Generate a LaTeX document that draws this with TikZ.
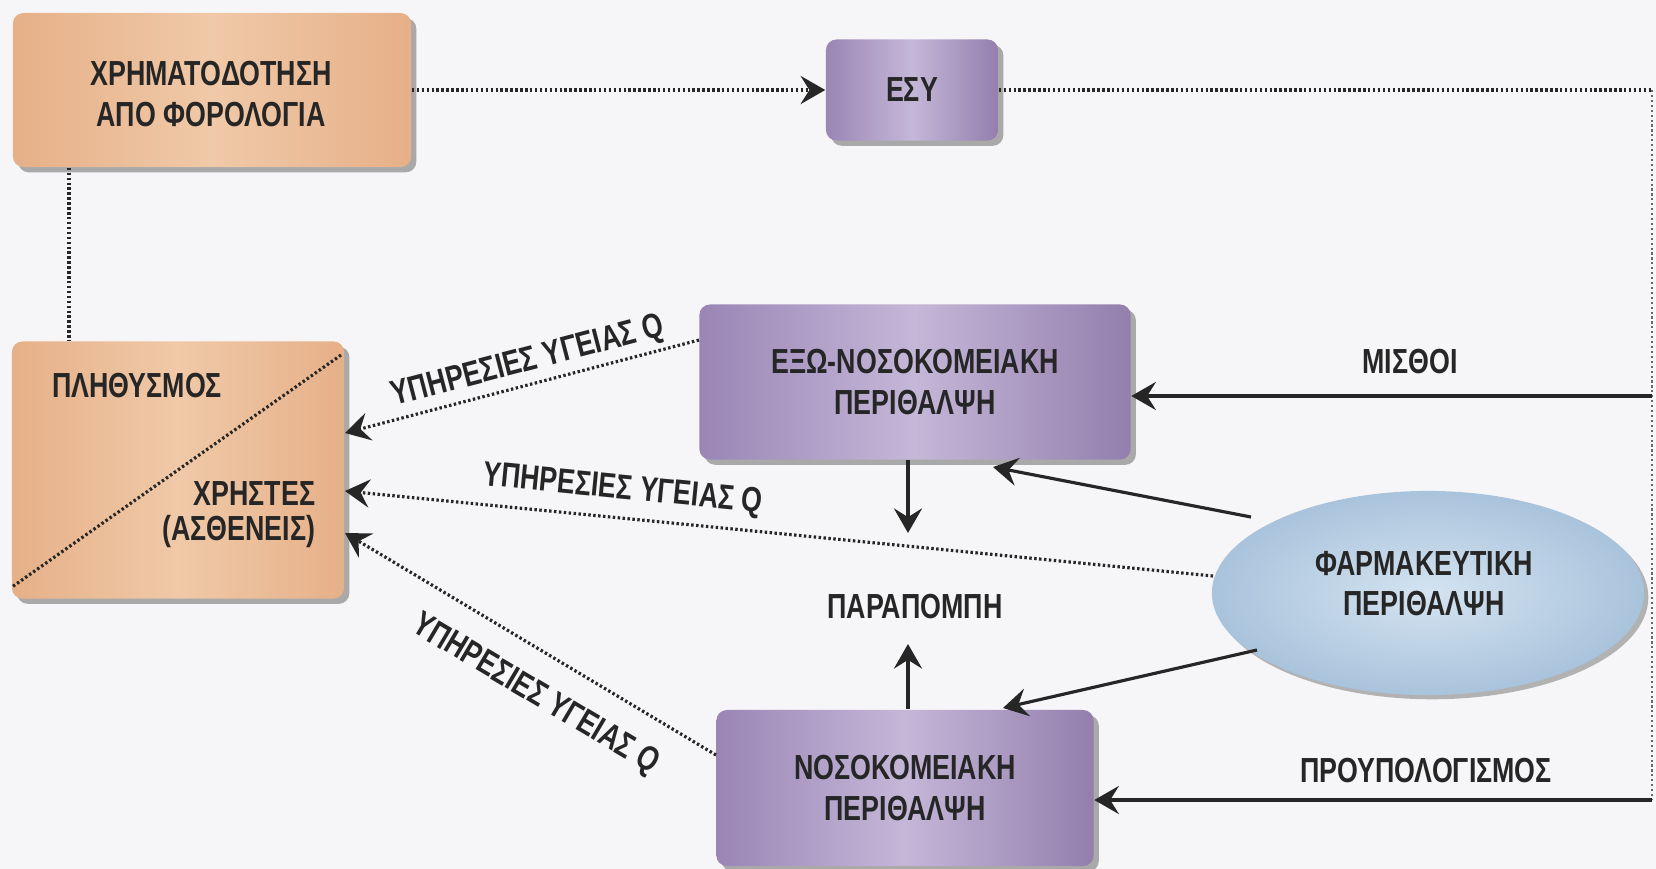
\documentclass[tikz,border=0pt]{standalone}
\usepackage{fontspec}
\setmainfont[FakeStretch=0.77,BoldFont={Liberation Sans Bold},BoldFeatures={FakeStretch=0.77}]{Liberation Sans}
\usetikzlibrary{arrows.meta,shapes.geometric,shadows,calc}
\definecolor{bg}{HTML}{F6F6F8}
\definecolor{ink}{HTML}{262626}
\definecolor{peachA}{HTML}{E6B088}
\definecolor{peachB}{HTML}{F0C9A8}
\definecolor{purA}{HTML}{9A85B5}
\definecolor{purB}{HTML}{C5B7D8}
\definecolor{purC}{HTML}{937EAD}
\definecolor{blueA}{HTML}{D4E3F0}
\definecolor{blueB}{HTML}{A9C3DC}
\tikzset{
  txt/.style={font=\fontsize{9.9}{11.4}\selectfont\bfseries, text=ink, align=center},
  peachbox/.style={rounded corners=3pt, left color=peachA, right color=peachA, middle color=peachB,
     drop shadow={shadow xshift=1.5pt, shadow yshift=-1.5pt, opacity=0.45, fill=black!70}, txt},
  purbox/.style={rounded corners=3pt, left color=purA, right color=purC, middle color=purB,
     drop shadow={shadow xshift=1.5pt, shadow yshift=-1.5pt, opacity=0.45, fill=black!70}, txt},
  pharm/.style={ellipse, inner color=blueA, outer color=blueB,
     drop shadow={shadow xshift=1.2pt, shadow yshift=-1.2pt, opacity=0.4, fill=black!70}},
  dotline/.style={draw=ink, line width=0.9pt, dash pattern=on 0.7pt off 0.7pt},
  thinline/.style={draw=ink!70, line width=0.6pt, dash pattern=on 0.6pt off 0.8pt},
  tipA/.style={-{Stealth[length=7pt,width=8pt,inset=2.5pt]}},
  sarrow/.style={draw=ink, line width=0.9pt, tipA},
  darrow/.style={dotline, tipA},
  lbl/.style={txt, inner sep=0pt}
}
\begin{document}
\begin{tikzpicture}[x=0.01cm,y=-0.01cm]
\fill[bg] (0,0) rectangle (1656,869);
\useasboundingbox (0,0) rectangle (1656,869);

% nodes
\node[peachbox, minimum width=3.98cm, minimum height=1.54cm] (fund) at (212,90) {};
\node[lbl] (fundT) at (211,94) {ΧΡΗΜΑΤΟΔΟΤΗΣΗ\\ΑΠΟ ΦΟΡΟΛΟΓΙΑ};
\node[purbox, minimum width=1.72cm, minimum height=1.01cm] (esy) at (912,90) {ΕΣΥ};
\node[peachbox, minimum width=3.32cm, minimum height=2.57cm] (pop) at (178,470) {};
\node[purbox, minimum width=4.31cm, minimum height=1.55cm] (ex) at (915,382)
  {ΕΞΩ-ΝΟΣΟΚΟΜΕΙΑΚΗ\\ΠΕΡΙΘΑΛΨΗ};
\node[purbox, minimum width=3.77cm, minimum height=1.56cm] (nos) at (905,788)
  {ΝΟΣΟΚΟΜΕΙΑΚΗ\\ΠΕΡΙΘΑΛΨΗ};
\node[pharm, minimum width=4.32cm, minimum height=2.04cm, inner sep=0pt] (ph) at (1428,593) {};
\node[lbl] (phT) at (1424,584) {ΦΑΡΜΑΚΕΥΤΙΚΗ\\ΠΕΡΙΘΑΛΨΗ};

% texts inside population box
\node[lbl] (plh) at (137,386) {ΠΛΗΘΥΣΜΟΣ};
\node[lbl, align=right, anchor=east] (xr) at (316,515) {ΧΡΗΣΤΕΣ\\[-1.5pt](ΑΣΘΕΝΕΙΣ)};
\coordinate (dgA) at (341,355);
\coordinate (dgB) at (12,587);
\draw[dotline] (dgA) -- (dgB);

% free labels
\node[lbl] (misth) at (1410,362) {ΜΙΣΘΟΙ};
\node[lbl] (proyp) at (1426,771) {ΠΡΟΥΠΟΛΟΓΙΣΜΟΣ};
\node[lbl] (parap) at (915,607) {ΠΑΡΑΠΟΜΠΗ};

% coordinates
\coordinate (esyR) at (1652,90);
\coordinate (mR) at (1652,396);
\coordinate (bR) at (1652,800);
\coordinate (tx) at (69,0);
\coordinate (rx) at (908,0);
\coordinate (downEnd) at (908,533);
\coordinate (upEnd) at (908,644);
\coordinate (phA) at (1251,517);
\coordinate (exIn) at (993,467);
\coordinate (phB) at (1257,650);
\coordinate (nosIn) at (1003,708);
\coordinate (q1s) at (699,340);
\coordinate (q1e) at (345,433);
\coordinate (q2s) at (1213,576);
\coordinate (q2e) at (345,491);
\coordinate (q3s) at (716,755);
\coordinate (q3e) at (345,533);

% connectors
\draw[darrow] (fund.east) -- (esy.west);
\draw[dotline] (esy.east) -- (esyR);
\draw[thinline] (esyR) -- (bR);
\draw[dotline] (fund.south -| tx) -- (pop.north -| tx);
\draw[sarrow] (mR) -- (ex.east |- mR);
\draw[sarrow] (bR) -- (nos.east |- bR);
\draw[sarrow] (ex.south -| rx) -- (downEnd);
\draw[sarrow] (nos.north -| rx) -- (upEnd);
\draw[sarrow] (phA) -- (exIn);
\draw[sarrow] (phB) -- (nosIn);
\draw[darrow] (q1s) -- (q1e);
\draw[darrow] (q2s) -- (q2e);
\draw[darrow] (q3s) -- (q3e);

% arrow labels
\node[lbl, rotate=14.6] (l1) at (528,362) {ΥΠΗΡΕΣΙΕΣ ΥΓΕΙΑΣ Q};
\node[lbl, rotate=-5.6] (l2) at (623,490) {ΥΠΗΡΕΣΙΕΣ ΥΓΕΙΑΣ Q};
\node[lbl, rotate=-30.7] (l3) at (535,695) {ΥΠΗΡΕΣΙΕΣ ΥΓΕΙΑΣ Q};
\end{tikzpicture}
\end{document}
